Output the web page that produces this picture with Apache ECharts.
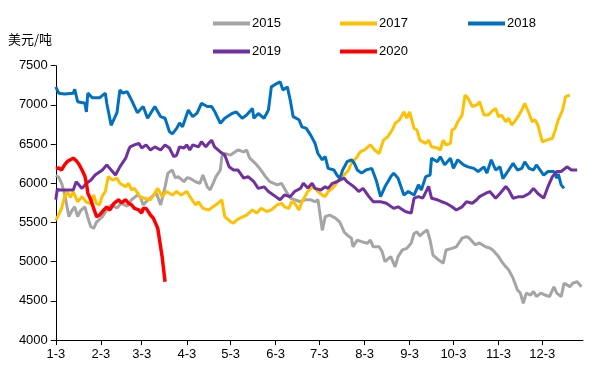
<!DOCTYPE html>
<html><head><meta charset="utf-8">
<script src="https://cdn.jsdelivr.net/npm/echarts@6/dist/echarts.min.js"></script>
<style>html,body{margin:0;padding:0;background:#fff}#c{width:600px;height:374px}</style>
</head><body><div id="c"></div>
<script>
// Categories: every day from 1-3 to 12-31; tick labels shown on the 3rd of each month
const monthDays = [31,28,31,30,31,30,31,31,30,31,30,31];
const categories = [];
for (let m = 1; m <= 12; m++) for (let d = 1; d <= monthDays[m-1]; d++) { if (m === 1 && d < 3) continue; categories.push(m + '-' + d); }
const yTicks = { min: 4000, max: 7500, interval: 500 };
const seriesNames = ['2015','2017','2018','2019','2020'];

const s2015 = [['1-3',6100],['1-5',6080],['1-7',6000],['1-9',5870],['1-12',5575],['1-14',5650],['1-16',5700],['1-18',5575],['1-20',5650],['1-23',5700],['1-25',5560],['1-27',5450],['1-29',5425],['1-31',5505],['2-4',5575],['2-7',5660],['2-10',5725],['2-14',5685],['2-17',5745],['2-21',5710],['2-24',5790],['2-28',5850],['3-2',5825],['3-4',5725],['3-6',5765],['3-10',5830],['3-13',5875],['3-16',5725],['3-19',5955],['3-21',6130],['3-24',6170],['3-26',6070],['3-28',6085],['4-1',6020],['4-3',6070],['4-5',6065],['4-9',6020],['4-12',6000],['4-14',6105],['4-17',5955],['4-19',5915],['4-21',6000],['4-23',6085],['4-26',6170],['4-27',6340],['4-29',6380],['5-3',6360],['5-6',6400],['5-8',6425],['5-12',6400],['5-14',6425],['5-16',6325],['5-20',6255],['5-23',6190],['5-27',6085],['5-30',6020],['6-4',5980],['6-7',6000],['6-11',5870],['6-13',5810],['6-16',5790],['6-20',5765],['6-23',5790],['6-27',5790],['6-30',5765],['7-2',5790],['7-5',5400],['7-7',5575],['7-10',5595],['7-14',5555],['7-17',5505],['7-20',5380],['7-22',5340],['7-25',5300],['7-26',5190],['7-29',5275],['8-1',5255],['8-5',5235],['8-7',5275],['8-9',5190],['8-13',5190],['8-15',5130],['8-17',5000],['8-21',5065],['8-24',4935],['8-26',5065],['8-29',5150],['9-1',5170],['9-4',5235],['9-6',5360],['9-8',5380],['9-10',5330],['9-13',5380],['9-15',5405],['9-17',5275],['9-19',5085],['9-23',5020],['9-26',4980],['9-28',5150],['10-2',5170],['10-5',5190],['10-9',5300],['10-12',5320],['10-14',5300],['10-18',5215],['10-21',5240],['10-25',5190],['10-28',5175],['10-30',5150],['11-3',5065],['11-6',4980],['11-10',4895],['11-13',4790],['11-16',4640],['11-18',4600],['11-20',4470],['11-22',4600],['11-25',4575],['11-27',4620],['11-29',4555],['12-2',4600],['12-5',4575],['12-8',4555],['12-11',4680],['12-13',4600],['12-16',4555],['12-18',4725],['12-20',4705],['12-22',4680],['12-24',4725],['12-27',4745],['12-30',4680]];

const s2017 = [['1-3',5530],['1-5',5600],['1-7',5680],['1-9',5830],['1-11',5890],['1-13',5820],['1-15',5890],['1-18',5765],['1-21',5830],['1-24',5760],['1-27',5740],['1-29',5850],['1-31',5740],['2-2',5725],['2-4',5840],['2-6',5895],['2-8',6085],['2-11',6040],['2-14',6065],['2-16',6000],['2-20',5955],['2-22',6000],['2-24',5915],['2-26',5935],['3-2',5825],['3-5',5810],['3-9',5790],['3-12',5875],['3-14',5935],['3-17',5830],['3-20',5895],['3-24',5850],['3-27',5895],['3-30',5850],['4-3',5895],['4-5',5830],['4-9',5725],['4-11',5765],['4-14',5680],['4-18',5660],['4-21',5700],['4-23',5725],['4-27',5790],['4-29',5575],['5-3',5510],['5-5',5490],['5-7',5530],['5-11',5570],['5-14',5595],['5-18',5660],['5-21',5620],['5-24',5680],['5-28',5640],['5-31',5660],['6-4',5725],['6-7',5745],['6-9',5700],['6-12',5680],['6-14',5765],['6-16',5745],['6-19',5660],['6-21',5765],['6-23',5830],['6-25',5895],['6-28',5955],['6-30',5935],['7-2',5895],['7-5',5850],['7-7',5830],['7-9',5895],['7-12',5935],['7-14',5980],['7-16',6040],['7-20',6105],['7-23',6170],['7-25',6255],['7-29',6340],['7-31',6400],['8-3',6425],['8-7',6490],['8-10',6425],['8-13',6380],['8-16',6550],['8-19',6595],['8-22',6680],['8-24',6765],['8-27',6810],['8-30',6910],['9-1',6830],['9-3',6910],['9-6',6700],['9-8',6680],['9-10',6550],['9-14',6510],['9-16',6550],['9-18',6465],['9-22',6450],['9-24',6425],['9-26',6550],['9-28',6490],['10-1',6510],['10-2',6680],['10-4',6700],['10-6',6785],['10-9',6870],['10-11',7125],['10-13',7085],['10-16',6980],['10-19',7000],['10-21',7040],['10-24',6870],['10-27',6870],['10-29',6910],['11-1',6955],['11-3',6850],['11-5',6870],['11-8',6785],['11-10',6830],['11-12',6745],['11-14',6785],['11-17',6870],['11-19',6935],['11-21',7020],['11-24',6890],['11-26',6785],['11-28',6810],['11-30',6745],['12-3',6530],['12-6',6550],['12-10',6575],['12-12',6680],['12-14',6810],['12-17',6935],['12-19',7105],['12-22',7125]];

const s2018 = [['1-3',7230],['1-5',7150],['1-9',7140],['1-15',7150],['1-16',7200],['1-18',7040],['1-23',7020],['1-24',6910],['1-25',7150],['1-28',7090],['2-2',7090],['2-6',7150],['2-7',7020],['2-10',6740],['2-14',6900],['2-16',7190],['2-18',7150],['2-21',7170],['2-24',7060],['2-28',6900],['3-4',6980],['3-7',6830],['3-12',6980],['3-16',6850],['3-19',6830],['3-22',6660],['3-24',6630],['3-27',6700],['3-29',6770],['3-31',6720],['4-4',6935],['4-7',6850],['4-10',6895],['4-13',7020],['4-17',6980],['4-20',6980],['4-22',6920],['4-26',6765],['4-29',6830],['5-4',6890],['5-7',6910],['5-11',6830],['5-14',6870],['5-18',6955],['5-19',6830],['5-22',6890],['5-26',6830],['5-29',6935],['5-31',7230],['6-4',7275],['6-6',7295],['6-8',7190],['6-11',7230],['6-13',7060],['6-15',6850],['6-19',6810],['6-21',6720],['6-24',6700],['6-27',6615],['6-30',6510],['7-2',6380],['7-5',6300],['7-7',6340],['7-9',6190],['7-13',6170],['7-15',6105],['7-17',6060],['7-19',6170],['7-22',6275],['7-25',6300],['7-27',6255],['7-29',6170],['8-1',6130],['8-4',6170],['8-8',6190],['8-11',6040],['8-14',5830],['8-17',5955],['8-21',6085],['8-23',6130],['8-26',6065],['8-30',5850],['9-2',5895],['9-6',5850],['9-9',5980],['9-11',5915],['9-14',6085],['9-17',6105],['9-18',6320],['9-22',6275],['9-24',6340],['9-27',6235],['10-1',6320],['10-3',6190],['10-6',6300],['10-10',6235],['10-13',6210],['10-17',6190],['10-20',6150],['10-24',6210],['10-26',6130],['10-29',6300],['11-1',6170],['11-4',6210],['11-6',6060],['11-10',6170],['11-13',6255],['11-16',6170],['11-19',6190],['11-21',6275],['11-24',6190],['11-27',6170],['11-29',6235],['12-4',6105],['12-7',6150],['12-11',6150],['12-13',6065],['12-14',6120],['12-16',5980],['12-18',5935]];

const s2019 = [['1-3',5790],['1-4',5920],['1-6',5915],['1-10',5915],['1-15',5915],['1-17',6020],['1-21',5935],['1-24',6000],['1-27',6040],['1-30',6105],['2-4',6170],['2-7',6235],['2-10',6170],['2-13',6105],['2-16',6210],['2-20',6320],['2-22',6425],['2-23',6465],['2-26',6490],['3-1',6510],['3-3',6450],['3-6',6490],['3-9',6425],['3-12',6465],['3-16',6425],['3-19',6490],['3-22',6450],['3-25',6340],['3-27',6360],['3-29',6465],['4-1',6450],['4-3',6490],['4-5',6425],['4-7',6490],['4-11',6465],['4-13',6530],['4-16',6465],['4-18',6510],['4-20',6550],['4-22',6465],['4-26',6400],['4-29',6360],['5-2',6210],['5-5',6170],['5-8',6170],['5-12',6065],['5-15',6085],['5-19',6020],['5-22',5935],['5-26',5955],['5-29',5895],['6-3',5830],['6-6',5790],['6-9',5850],['6-13',5830],['6-16',5895],['6-20',5935],['6-22',6000],['6-25',5940],['6-28',6000],['6-30',5935],['7-4',5915],['7-7',5955],['7-9',5935],['7-12',6000],['7-15',6020],['7-17',6040],['7-20',6065],['7-22',6020],['7-25',5980],['7-28',5935],['7-30',5895],['8-2',5935],['8-6',5830],['8-9',5765],['8-14',5765],['8-18',5745],['8-23',5680],['8-26',5700],['8-31',5640],['9-4',5620],['9-6',5810],['9-9',5830],['9-12',5810],['9-16',5960],['9-18',5810],['9-22',5790],['9-25',5765],['9-28',5745],['10-2',5700],['10-5',5660],['10-9',5700],['10-12',5765],['10-16',5745],['10-19',5790],['10-21',5830],['10-25',5870],['10-28',5895],['11-1',5810],['11-4',5870],['11-8',5960],['11-10',5915],['11-13',5810],['11-17',5830],['11-20',5830],['11-24',5870],['11-27',5935],['11-30',5870],['12-4',5810],['12-7',5960],['12-10',6085],['12-13',6150],['12-16',6150],['12-20',6210],['12-23',6170],['12-27',6170]];

const s2020 = [['1-3',6190],['1-5',6195],['1-7',6170],['1-9',6235],['1-11',6280],['1-13',6300],['1-15',6320],['1-17',6290],['1-19',6240],['1-21',6170],['1-23',6090],['1-24',6000],['1-25',5875],['1-27',5790],['1-29',5680],['1-31',5575],['2-2',5595],['2-5',5660],['2-7',5700],['2-9',5660],['2-12',5745],['2-15',5790],['2-17',5750],['2-20',5790],['2-22',5745],['2-24',5725],['2-26',5680],['3-1',5660],['3-3',5620],['3-4',5680],['3-6',5680],['3-9',5595],['3-11',5555],['3-13',5470],['3-14',5425],['3-17',5065],['3-19',4745]];

const colors = ['#A5A5A5','#FFC000','#0070C0','#7030A0','#FF0000'];
const dataList = [s2015, s2017, s2018, s2019, s2020];
const FONT = "'Liberation Sans',Arial,sans-serif";
const isTick = (i, v) => v.split('-')[1] === '3';
const legendPos = [[213,17],[340,17],[468,17],[213,45],[340,45]];

const chart = echarts.init(document.getElementById('c'), null, {renderer:'canvas'});
chart.setOption({
  animation: false,
  color: colors,
  grid: { left: 55.8, right: 17, top: 65.7, bottom: 33.9, containLabel: false },
  legend: seriesNames.map((n, i) => ({
    data: [n], left: legendPos[i][0], top: legendPos[i][1],
    icon: 'rect', itemWidth: 37, itemHeight: 4, itemGap: 0, padding: 0,
    textStyle: { color: '#000', fontSize: 13, fontFamily: FONT, padding: [0,0,0,-3] },
    selectedMode: false
  })),
  graphic: [{ type: 'text', left: 8, top: 33, style: { text: '美元/吨', fontSize: 13, fill: '#000', fontFamily: "'Noto Sans CJK SC',sans-serif" } }],
  xAxis: {
    type: 'category', data: categories, boundaryGap: false,
    axisLine: { lineStyle: { color: '#000', width: 1 } },
    axisTick: { interval: isTick, length: 5, lineStyle: { color: '#000' } },
    axisLabel: { interval: isTick, color: '#000', fontSize: 13, fontFamily: FONT, margin: 8 },
    splitLine: { show: false }
  },
  yAxis: {
    type: 'value', min: yTicks.min, max: yTicks.max, interval: yTicks.interval,
    axisLine: { show: true, lineStyle: { color: '#000', width: 1 } },
    axisTick: { show: true, length: 5, lineStyle: { color: '#000' } },
    axisLabel: { color: '#000', fontSize: 13, fontFamily: FONT, margin: 8, formatter: v => String(v) },
    splitLine: { show: false }
  },
  series: seriesNames.map((n, i) => ({
    name: n, type: 'line', data: dataList[i], symbol: 'none', smooth: false,
    lineStyle: { width: i === 4 ? 3.5 : 3, color: colors[i] },
    itemStyle: { color: colors[i] }, z: 2 + i
  }))
});
</script></body></html>
